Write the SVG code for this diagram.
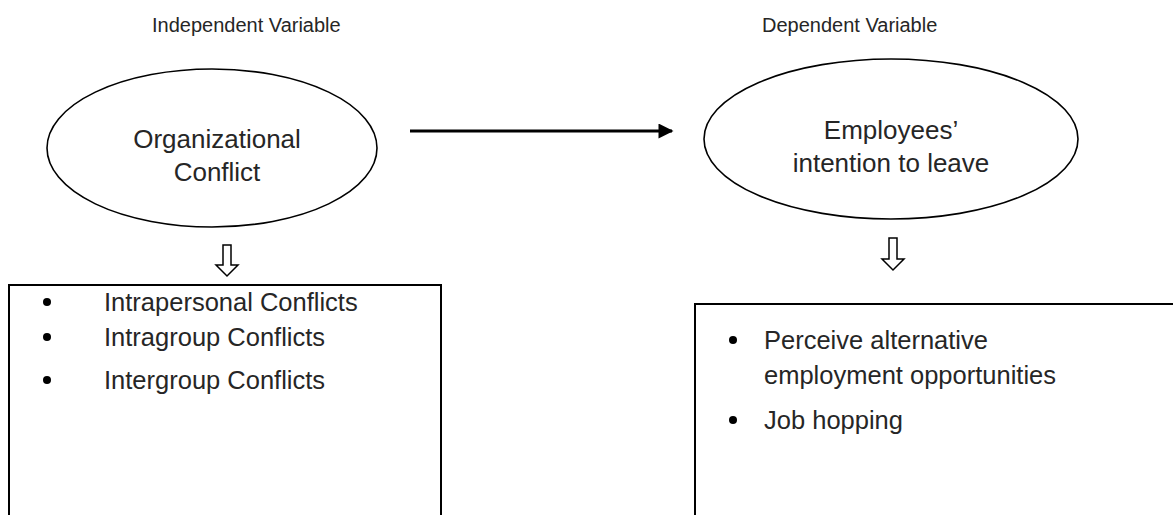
<svg xmlns="http://www.w3.org/2000/svg" width="1173" height="515" viewBox="0 0 1173 515">
<defs>
<style>
.t{font-family:"Liberation Sans",Arial,sans-serif;fill:#262626}
.h{font-size:20px}
.e{font-size:26px;text-anchor:middle}
.l{font-size:25.5px}
.shape{fill:#fff;stroke:#000;stroke-width:1.6}
.box{fill:#fff;stroke:#000;stroke-width:2}
.down{fill:#fff;stroke:#000;stroke-width:1.5;stroke-linejoin:miter}
</style>
<marker id="ah" viewBox="0 0 10 10" refX="9" refY="5" markerWidth="6.5" markerHeight="5" orient="auto" markerUnits="strokeWidth">
<path d="M0,0 L10,5 L0,10 Z" fill="#000"/>
</marker>
</defs>
<rect width="1173" height="515" fill="#fff"/>
<g id="label-independent"><text class="t h" x="152" y="32">Independent Variable</text></g>
<g id="label-dependent"><text class="t h" x="762" y="32">Dependent Variable</text></g>
<g id="node-org-conflict">
<ellipse class="shape" cx="212" cy="148" rx="165" ry="79"/>
<text class="t e" x="217" y="148">Organizational</text>
<text class="t e" x="217" y="181">Conflict</text>
</g>
<g id="node-intention">
<ellipse class="shape" cx="891" cy="139" rx="187" ry="80"/>
<text class="t e" x="891" y="139">Employees’</text>
<text class="t e" x="891" y="172">intention to leave</text>
</g>
<g id="node-conflict-types">
<rect class="box" x="9" y="285" width="432" height="250"/>
<circle cx="47" cy="302" r="4"/>
<text class="t l" x="104" y="311">Intrapersonal Conflicts</text>
<circle cx="47" cy="337" r="4"/>
<text class="t l" x="104" y="346">Intragroup Conflicts</text>
<circle cx="47" cy="380" r="4"/>
<text class="t l" x="104" y="389">Intergroup Conflicts</text>
</g>
<g id="node-leave-indicators">
<rect class="box" x="695" y="304" width="500" height="250"/>
<circle cx="733" cy="340" r="4"/>
<text class="t l" x="764" y="349">Perceive alternative</text>
<text class="t l" x="764" y="384">employment opportunities</text>
<circle cx="733" cy="420" r="4"/>
<text class="t l" x="764" y="429">Job hopping</text>
</g>
<g id="connectors">
<line x1="410" y1="131" x2="672" y2="131" stroke="#000" stroke-width="3" marker-end="url(#ah)"/>
<path class="down" d="M223,245 H231 V265 H238 L227,276 L216,265 H223 Z"/>
<path class="down" d="M889,238 H897 V259 H904 L893,270 L882,259 H889 Z"/>
</g>
</svg>
